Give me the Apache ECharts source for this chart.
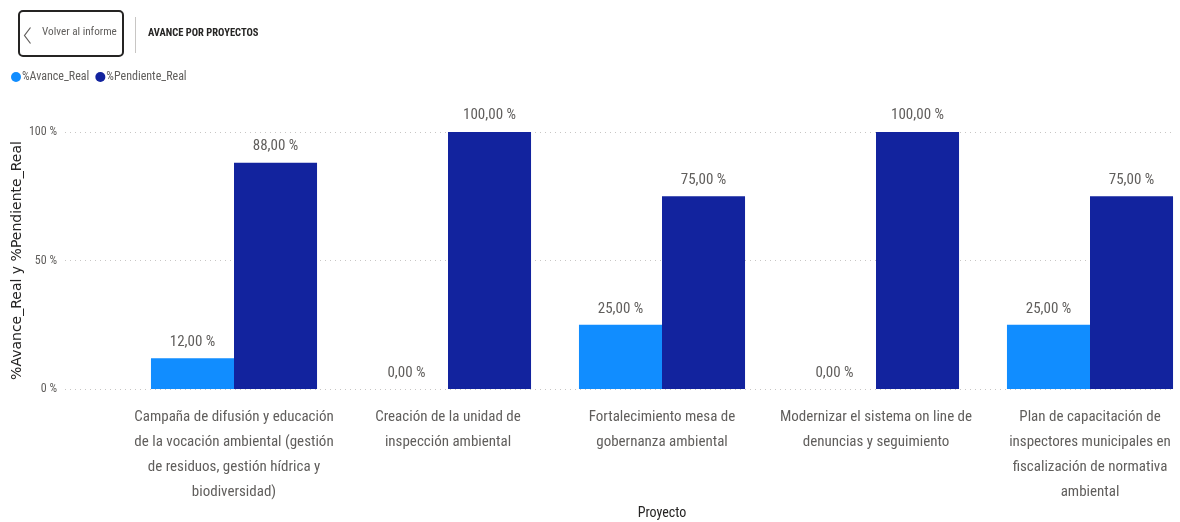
<!DOCTYPE html>
<html>
<head>
<meta charset="utf-8">
<script src="https://cdn.jsdelivr.net/npm/echarts@6/dist/echarts.min.js"></script>
<style>
html,body{margin:0;padding:0;background:#fff;}
#chart{width:1180px;height:522px;}
</style>
</head>
<body>
<div id="chart"></div>
<script>
const categories = [
  'Campaña de difusión y educación de la vocación ambiental (gestión de residuos, gestión hídrica y biodiversidad)',
  'Creación de la unidad de inspección ambiental',
  'Fortalecimiento mesa de gobernanza ambiental',
  'Modernizar el sistema on line de denuncias y seguimiento',
  'Plan de capacitación de inspectores municipales en fiscalización de normativa ambiental'
];
const categoryLabels = [
  'Campaña de difusión y educación\nde la vocación ambiental (gestión\nde residuos, gestión hídrica y\nbiodiversidad)',
  'Creación de la unidad de\ninspección ambiental',
  'Fortalecimiento mesa de\ngobernanza ambiental',
  'Modernizar el sistema on line de\ndenuncias y seguimiento',
  'Plan de capacitación de\ninspectores municipales en\nfiscalización de normativa\nambiental'
];
const avanceReal = [12, 0, 25, 0, 25];
const pendienteReal = [88, 100, 75, 100, 75];
const yTicks = [0, 50, 100];

const NARROW = '"Roboto Condensed","DejaVu Sans Condensed",sans-serif';
const fmt = v => v.toFixed(2).replace('.', ',') + ' %';

const chart = echarts.init(document.getElementById('chart'), null, {renderer: 'canvas'});
const option = {
  animation: false,
  backgroundColor: '#ffffff',
  textStyle: {fontFamily: NARROW},
  legend: {
    left: 6, top: 66,
    icon: 'circle', itemWidth: 10, itemHeight: 10, itemGap: 6,
    textStyle: {fontFamily: NARROW, fontSize: 12, color: '#605E5C', padding: [0, 0, 0, -4]},
    data: ['%Avance_Real', '%Pendiente_Real']
  },
  graphic: [
    {type: 'rect', left: 18, top: 10, shape: {width: 104, height: 45, r: 4},
     style: {fill: '#fff', stroke: '#252423', lineWidth: 2}},
    {type: 'polyline', left: 22, top: 25, shape: {points: [[6, 0], [0, 8], [6, 16]]},
     style: {stroke: '#605E5C', lineWidth: 1.2, fill: null}},
    {type: 'text', left: 42, top: 27,
     style: {text: 'Volver al informe', fontFamily: NARROW, fontSize: 11.2, fill: '#605E5C'}},
    {type: 'line', shape: {x1: 135.5, y1: 17, x2: 135.5, y2: 53},
     style: {stroke: '#C8C6C4', lineWidth: 1}},
    {type: 'text', left: 148, top: 28,
     style: {text: 'AVANCE POR PROYECTOS', fontFamily: NARROW, fontSize: 10.5, fontWeight: 'bold', fill: '#252423'}}
  ],
  grid: [
    {left: 65, right: 5, top: 132, bottom: 133, containLabel: false, outerBoundsMode: 'none'},
    {left: 127, width: 1070, top: 132, bottom: 133, containLabel: false, outerBoundsMode: 'none'}
  ],
  xAxis: [
    {type: 'value', gridIndex: 0, show: false, min: 0, max: 1},
    {
      type: 'category', gridIndex: 1, data: categories,
      axisLine: {show: false}, axisTick: {show: false},
      axisLabel: {
        interval: 0, margin: 16, fontFamily: NARROW, fontSize: 15, lineHeight: 25,
        color: '#605E5C', align: 'center', hideOverlap: false,
        formatter: (v, i) => categoryLabels[i]
      },
      name: 'Proyecto', nameLocation: 'middle', nameGap: 117, nameMoveOverlap: false,
      nameTextStyle: {fontFamily: NARROW, fontSize: 14, color: '#252423'}
    }
  ],
  yAxis: [
    {
      type: 'value', gridIndex: 0, min: 0, max: 100, interval: 50,
      axisLine: {show: false}, axisTick: {show: false},
      axisLabel: {margin: 8, fontFamily: NARROW, fontSize: 12, color: '#605E5C',
        formatter: v => v + ' %'},
      splitLine: {show: true, lineStyle: {color: '#C8C6C4', type: [1, 4], width: 1}},
      name: '%Avance_Real y %Pendiente_Real', nameLocation: 'middle', nameGap: 41,
      nameRotate: 90, nameMoveOverlap: false,
      nameTextStyle: {fontFamily: '"DejaVu Sans",sans-serif', fontSize: 14, color: '#252423'}
    },
    {
      type: 'value', gridIndex: 1, min: 0, max: 100, interval: 50, show: false,
      splitLine: {show: false}
    }
  ],
  series: [
    {
      name: '%Avance_Real', type: 'bar', xAxisIndex: 1, yAxisIndex: 1,
      data: avanceReal, barGap: '0%', barCategoryGap: '22.4%',
      itemStyle: {color: '#118DFF'},
      label: {show: true, position: 'top', distance: 8, fontFamily: NARROW, fontSize: 15,
        color: '#605E5C', formatter: p => fmt(p.value)}
    },
    {
      name: '%Pendiente_Real', type: 'bar', xAxisIndex: 1, yAxisIndex: 1,
      data: pendienteReal, barGap: '0%', barCategoryGap: '22.4%',
      itemStyle: {color: '#12239E'},
      label: {show: true, position: 'top', distance: 9, fontFamily: NARROW, fontSize: 15,
        color: '#605E5C', formatter: p => fmt(p.value)}
    }
  ]
};
chart.setOption(option);
</script>
</body>
</html>
